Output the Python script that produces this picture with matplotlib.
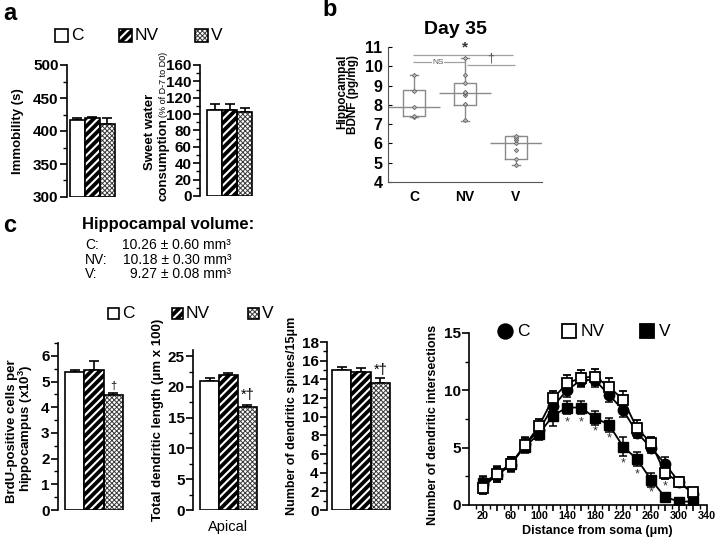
import numpy as np
import matplotlib
matplotlib.use("Agg")
import matplotlib.pyplot as plt
from matplotlib.patches import Rectangle
from matplotlib.lines import Line2D

plt.rcParams['font.family'] = ['Liberation Sans', 'DejaVu Sans']
plt.rcParams['mathtext.fontset'] = 'custom'
plt.rcParams['mathtext.rm'] = 'Liberation Sans'
plt.rcParams['mathtext.bf'] = 'Liberation Sans:bold'

W, H = 720, 541

# ---------------- data ----------------
groups = ["C", "NV", "V"]

immobility = [416, 419, 410]
immobility_err = [3, 1.5, 9]

sweet_water = [105.5, 105.5, 103]
sweet_water_err = [7, 7, 4.5]

# panel b box stats: q1, q3, whislo, whishi, mean line, points
bdnf_q1 = [7.4, 8.0, 5.19]
bdnf_q3 = [8.75, 9.11, 6.38]
bdnf_lo = [7.35, 7.18, 4.88]
bdnf_hi = [9.55, 10.41, 6.38]
bdnf_mean = [7.9, 8.6, 6.0]
bdnf_points = [
    [7.35, 7.4, 7.9, 8.7, 9.55],
    [7.21, 8.03, 8.5, 8.6, 8.68, 9.11, 9.54, 10.41],
    [4.88, 5.19, 5.66, 6.0, 6.18, 6.3, 6.38],
]

brdu = [5.39, 5.43, 4.48]
brdu_err = [0.06, 0.37, 0.07]

dend_length = [21.0, 21.9, 16.8]
dend_length_err = [0.5, 0.3, 0.2]

spines = [15.0, 14.8, 13.65]
spines_err = [0.35, 0.4, 0.45]

distance = [20, 40, 60, 80, 100, 120, 140, 160, 180, 200, 220, 240, 260, 280, 300, 320]
sholl_C = [1.8, 2.6, 3.5, 5.3, 6.5, 8.6, 10.0, 10.9, 10.9, 9.6, 8.3, 6.3, 5.0, 3.6, 2.0, 1.0]
sholl_C_err = [0.6, 0.6, 0.6, 0.6, 0.5, 0.7, 0.6, 0.6, 0.6, 0.6, 0.6, 0.5, 0.5, 0.6, 0.4, 0.4]
sholl_NV = [1.5, 2.7, 3.6, 5.2, 6.9, 9.3, 10.6, 11.1, 11.2, 10.3, 9.2, 6.7, 5.4, 2.8, 2.0, 1.1]
sholl_NV_err = [0.5, 0.6, 0.6, 0.6, 0.6, 0.6, 0.7, 0.7, 0.7, 0.8, 0.7, 0.7, 0.5, 0.5, 0.4, 0.4]
sholl_V = [1.9, 2.7, 3.6, 5.1, 6.2, 7.8, 8.5, 8.5, 7.6, 7.0, 5.1, 4.0, 2.2, 0.7, 0.3, 0.3]
sholl_V_err = [0.6, 0.7, 0.6, 0.6, 0.5, 0.9, 0.6, 0.6, 0.6, 0.6, 0.8, 0.6, 0.6, 0.3, 0.3, 0.3]
star_dist = [140, 160, 180, 200, 220, 240, 260, 280]
star_y = [7.2, 7.2, 6.4, 5.8, 3.6, 2.7, 1.1, 1.6]

volume_lines = [("C:", "10.26 \u00b1 0.60 mm\u00b3"),
                ("NV:", "10.18 \u00b1 0.30 mm\u00b3"),
                ("V:", "9.27 \u00b1 0.08 mm\u00b3")]

# ---------------- helpers ----------------
fig = plt.figure(figsize=(W / 100, H / 100), dpi=100)


def px_axes(l, t, r, b):
    return fig.add_axes([l / W, 1 - b / H, (r - l) / W, (b - t) / H])


def ftext(x, y, s, **kw):
    return fig.text(x / W, 1 - y / H, s, **kw)


def set_hlw(p, lw):
    if hasattr(p, "set_hatch_linewidth"):
        p.set_hatch_linewidth(lw)


def draw_bars(ax, vals, errs, base=0, tick_fs=11):
    x = np.arange(3)
    ax.bar(x[0], vals[0] - base, width=1, bottom=base, color='white',
           edgecolor='black', lw=1.2, zorder=2)
    bs = ax.bar(x[1], vals[1] - base, width=1, bottom=base, color='black',
                edgecolor='white', hatch='////', lw=0, zorder=2)
    for p in bs:
        set_hlw(p, 1.5)
    ax.bar(x[1], vals[1] - base, width=1, bottom=base, fill=False,
           edgecolor='black', lw=1.2, zorder=3)
    bs = ax.bar(x[2], vals[2] - base, width=1, bottom=base, color='white',
                edgecolor='#3a3a3a', hatch='xxxxxxx', lw=0, zorder=2)
    for p in bs:
        set_hlw(p, 0.7)
    ax.bar(x[2], vals[2] - base, width=1, bottom=base, fill=False,
           edgecolor='black', lw=1.2, zorder=3)
    ax.errorbar(x, vals, yerr=[np.zeros(3), errs], fmt='none', ecolor='black',
                elinewidth=1.2, capsize=3.5, capthick=1.2, zorder=1)
    for s in ['top', 'right', 'bottom']:
        ax.spines[s].set_visible(False)
    ax.spines['left'].set_linewidth(1.2)
    ax.set_xticks([])
    ax.tick_params(axis='y', direction='out', length=5, width=1.2, labelsize=tick_fs, pad=1)
    ax.tick_params(axis='y', which='minor', direction='out', length=3, width=1.0)
    for lab in ax.get_yticklabels():
        lab.set_fontweight('bold')


def legend_row(items, y, size, fs):
    # items: list of (x_square, kind, label)
    for xs, kind, label in items:
        l, b = xs / W, 1 - (y + size / 2) / H
        w, h = size / W, size / H
        if kind == 'C':
            fig.patches.append(Rectangle((l, b), w, h, transform=fig.transFigure,
                                         facecolor='white', edgecolor='black', lw=1.2))
        elif kind == 'NV':
            p = Rectangle((l, b), w, h, transform=fig.transFigure, facecolor='black',
                          edgecolor='white', hatch='////', lw=0)
            set_hlw(p, 1.5)
            fig.patches.append(p)
            fig.patches.append(Rectangle((l, b), w, h, transform=fig.transFigure,
                                         fill=False, edgecolor='black', lw=1.2))
        else:
            p = Rectangle((l, b), w, h, transform=fig.transFigure, facecolor='white',
                          edgecolor='#3a3a3a', hatch='xxxxxxx', lw=0)
            set_hlw(p, 0.7)
            fig.patches.append(p)
            fig.patches.append(Rectangle((l, b), w, h, transform=fig.transFigure,
                                         fill=False, edgecolor='black', lw=1.2))
        ftext(xs + size + 3, y, label, fontsize=fs, va='center', ha='left')


# ---------------- panel a ----------------
ftext(3, 14, "a", fontsize=17, fontweight='bold', va='center')
legend_row([(55, 'C', 'C'), (119, 'NV', 'NV'), (195, 'V', 'V')], 35, 13, 12.5)

a1 = px_axes(67, 65, 117, 197)
a1.set_xlim(-0.7, 2.65)
a1.set_ylim(300, 500)
a1.set_yticks([300, 350, 400, 450, 500])
a1.set_yticks(np.arange(300, 501, 25), minor=True)
draw_bars(a1, immobility, immobility_err, base=300)
ftext(18, 131, "Immobility (s)", rotation=90, fontsize=9.5, fontweight='bold',
      ha='center', va='center')

a2 = px_axes(200, 65, 255, 196)
a2.set_xlim(-0.97, 2.7)
a2.set_ylim(0, 160)
a2.set_yticks(np.arange(0, 161, 20))
a2.set_yticks(np.arange(0, 161, 10), minor=True)
draw_bars(a2, sweet_water, sweet_water_err)
ftext(150, 132, "Sweet water", rotation=90, fontsize=9.5, fontweight='bold',
      ha='center', va='center')
ftext(163, 201, "consumption", rotation=90, fontsize=9.5, fontweight='bold',
      ha='center', va='bottom')
ftext(163, 52, "(% of D-7 to D0)", rotation=90, fontsize=6.5,
      ha='center', va='top')

# ---------------- panel b ----------------
ftext(322, 10, "b", fontsize=17, fontweight='bold', va='center')
ftext(455, 30, "Day 35", fontsize=14, fontweight='bold', ha='center', va='center')

b = px_axes(388, 47, 542, 182)
pos = [1, 2, 3]
stats = []
for i in range(3):
    stats.append(dict(med=bdnf_mean[i], q1=bdnf_q1[i], q3=bdnf_q3[i],
                      whislo=bdnf_lo[i], whishi=bdnf_hi[i], fliers=[]))
gray = '#8a8a8a'
b.bxp(stats, positions=pos, widths=0.42, showfliers=False,
      boxprops=dict(color=gray, lw=1.0),
      whiskerprops=dict(color=gray, lw=1.0),
      capprops=dict(color=gray, lw=1.0),
      medianprops=dict(color='none', lw=0),
      capwidths=0.14)
for i in range(3):
    b.hlines(bdnf_mean[i], pos[i] - 0.51, pos[i] + 0.51, color=gray, lw=1.0)
    b.plot([pos[i]] * len(bdnf_points[i]), bdnf_points[i], ls='none', marker='D',
           ms=2.2, mfc='#bbbbbb', mec='#666666', mew=0.6, zorder=4)
# significance lines
sig = '#a0a0a0'
b.hlines(10.58, 0.98, 2.95, color=sig, lw=0.9)
b.hlines(10.2, 0.98, 2.0, color=sig, lw=0.9)
b.hlines(10.05, 2.03, 2.98, color=sig, lw=0.9)
b.text(2.0, 10.62, "*", fontsize=11, ha='center', va='bottom', color='#333', fontweight='bold')
b.text(1.47, 10.21, "NS", fontsize=6, ha='center', va='center', color='#555',
       bbox=dict(facecolor='white', edgecolor='none', pad=0.3))
b.text(2.5, 10.07, "\u2020", fontsize=9, ha='center', va='bottom', color='#555')
b.set_xlim(0.49, 3.51)
b.set_ylim(4, 11)
b.set_yticks(range(4, 12))
b.set_xticks(pos)
b.set_xticklabels(groups, fontsize=10, fontweight='bold')
b.tick_params(axis='x', length=0, pad=6)
b.tick_params(axis='y', length=3, direction='in', labelsize=11.5, pad=4)
for lab in b.get_yticklabels():
    lab.set_fontweight('bold')
for s in ['top', 'right']:
    b.spines[s].set_visible(False)
b.spines['left'].set_color('#555')
b.spines['bottom'].set_color('#555')
ftext(342, 92, "Hippocampal", rotation=90, fontsize=8.5, fontweight='bold',
      ha='center', va='center')
ftext(353, 95, "BDNF (pg/mg)", rotation=90, fontsize=8.5, fontweight='bold',
      ha='center', va='center')

# ---------------- panel c ----------------
ftext(3, 226, "c", fontsize=17, fontweight='bold', va='center')
ftext(82, 224, "Hippocampal volume:", fontsize=12, fontweight='bold', va='center')
for k, (lab, val) in enumerate(volume_lines):
    yy = 245 + k * 14.5
    ftext(85, yy, lab, fontsize=10, va='center', ha='left')
    ftext(231, yy, val, fontsize=10, va='center', ha='right')

legend_row([(108, 'C', 'C'), (172, 'NV', 'NV'), (248, 'V', 'V')], 313, 11, 12.5)

c1 = px_axes(58, 343, 126, 510)
c1.set_xlim(-0.86, 2.65)
c1.set_ylim(0, 6.5)
c1.set_yticks(range(0, 7))
c1.set_yticks(np.arange(0, 6.6, 0.5), minor=True)
draw_bars(c1, brdu, brdu_err)
c1.text(2, brdu[2] + brdu_err[2] + 0.08, "\u2020", fontsize=8, ha='center', va='bottom')
ftext(12, 431, "BrdU-positive cells per", rotation=90, fontsize=9.5,
      fontweight='bold', ha='center', va='center')
ftext(26, 428, "hippocampus (x10$^\\mathbf{3}$)", rotation=90, fontsize=9.5,
      fontweight='bold', ha='center', va='center')

c2 = px_axes(193, 350, 260, 510)
c2.set_xlim(-0.87, 2.66)
c2.set_ylim(0, 26)
c2.set_yticks(range(0, 26, 5))
c2.set_yticks(np.arange(0, 26, 2.5), minor=True)
draw_bars(c2, dend_length, dend_length_err)
c2.text(2, dend_length[2] + dend_length_err[2] + 0.5, "*\u2020", fontsize=10.5,
        ha='center', va='bottom')
ftext(158, 420, "Total dendritic length (\u03bcm x 100)", rotation=90, fontsize=9.5,
      fontweight='bold', ha='center', va='center')
ftext(228, 527, "Apical", fontsize=10.5, ha='center', va='center')

c3 = px_axes(327, 342, 393, 510)
c3.set_xlim(-0.76, 2.65)
c3.set_ylim(0, 18)
c3.set_yticks(range(0, 19, 2))
c3.set_yticks(range(0, 19, 1), minor=True)
draw_bars(c3, spines, spines_err)
c3.text(2, spines[2] + spines_err[2] + 0.2, "*\u2020", fontsize=10.5,
        ha='center', va='bottom')
ftext(292, 416, "Number of dendritic spines/15\u03bcm", rotation=90, fontsize=9,
      fontweight='bold', ha='center', va='center')

c4 = px_axes(469, 333, 707, 505)
ekw = dict(elinewidth=1.1, capsize=3, capthick=1.1, ecolor='black')
c4.errorbar(distance, sholl_C, yerr=sholl_C_err, color='black', lw=1.3, marker='o',
            ms=7.5, mfc='black', mec='black', zorder=3, **ekw)
c4.errorbar(distance, sholl_V, yerr=sholl_V_err, color='black', lw=1.3, marker='s',
            ms=7.5, mfc='black', mec='black', zorder=4, **ekw)
c4.errorbar(distance, sholl_NV, yerr=sholl_NV_err, color='black', lw=1.3, marker='s',
            ms=7.5, mfc='white', mec='black', mew=1.3, zorder=5, **ekw)
for xd, yd in zip(star_dist, star_y):
    c4.text(xd, yd, "*", fontsize=9, ha='center', va='center', color='#333')
c4.set_xlim(0, 340)
c4.set_ylim(0, 15)
c4.set_xticks(range(20, 341, 20))
c4.set_xticklabels([str(v) if (v - 20) % 40 == 0 else "" for v in range(20, 341, 20)],
                   fontsize=7.8, fontweight='bold')
c4.set_xticks(range(10, 341, 20), minor=True)
c4.set_yticks([0, 5, 10, 15])
c4.set_yticks(np.arange(0, 15.1, 2.5), minor=True)
c4.tick_params(axis='both', direction='out', length=5, width=1.2, pad=1)
c4.tick_params(axis='x', pad=0, length=4)
c4.tick_params(axis='both', which='minor', direction='out', length=3, width=1.0)
c4.tick_params(axis='y', labelsize=11)
for lab in c4.get_yticklabels():
    lab.set_fontweight('bold')
for s in ['top', 'right']:
    c4.spines[s].set_visible(False)
c4.spines['left'].set_linewidth(1.2)
c4.spines['bottom'].set_linewidth(1.2)
ftext(433, 425, "Number of dendritic intersections", rotation=90, fontsize=9,
      fontweight='bold', ha='center', va='center')
ftext(597, 531, "Distance from soma (\u03bcm)", fontsize=9, fontweight='bold',
      ha='center', va='center')

# legend for c4 (markers + labels)
leg_items = [(505, 'o', 'black', 'C'), (569, 's', 'white', 'NV'), (647, 's', 'black', 'V')]
for xm, mk, fc, lab in leg_items:
    fig.add_artist(Line2D([xm / W], [1 - 331 / H], transform=fig.transFigure, ls='none',
                          marker=mk, ms=10.5, mfc=fc, mec='black', mew=1.3))
    ftext(xm + 12, 331, lab, fontsize=12.5, ha='left', va='center')

fig.savefig("out.png", dpi=100)
